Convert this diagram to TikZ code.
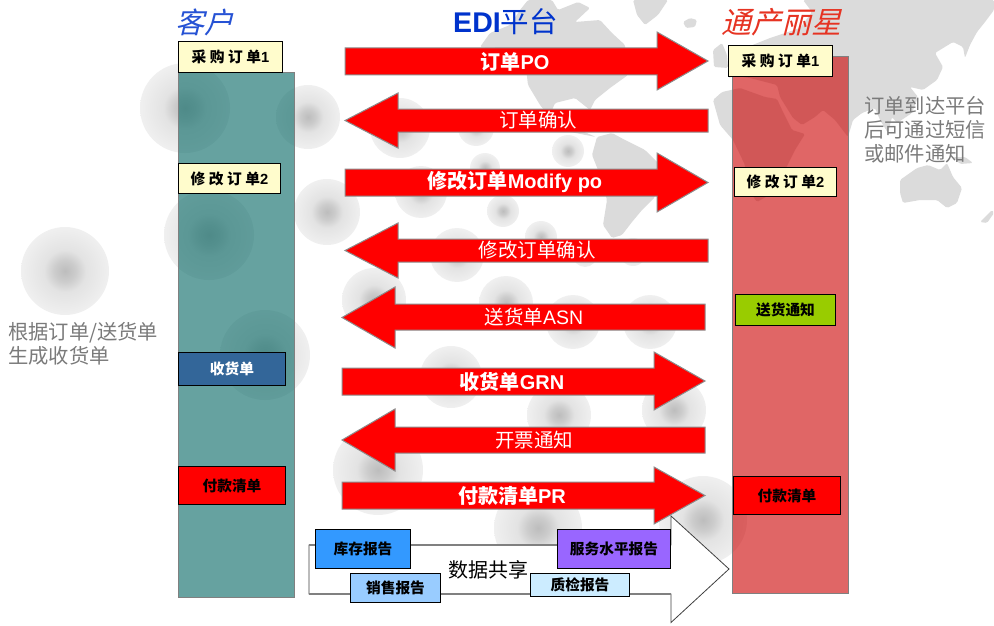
\documentclass[tikz,border=0pt]{standalone}
\usepackage{fontspec}
\setmainfont{Liberation Sans}
\newfontfamily\cjk{Noto Sans CJK SC}
\newfontfamily\cjkslant[FakeSlant=0.25]{Noto Sans CJK SC}
\newfontfamily\cjkspaced[LetterSpace=24]{Noto Sans CJK SC}
\newcommand{\zh}[1]{{\cjk #1}}
\newcommand{\fsz}[1]{\fontsize{#1}{24}\selectfont}
\definecolor{landgray}{HTML}{DBDBDB}
\definecolor{tealcol}{RGB}{20,112,109}
\definecolor{redcol}{RGB}{203,0,0}
\definecolor{titleblue}{HTML}{0033CC}
\definecolor{titlered}{HTML}{E63322}
\pgfdeclareradialshading{ballshade}{\pgfpoint{0bp}{0bp}}{rgb(0bp)=(.74,.74,.74); rgb(6bp)=(.8,.8,.8); rgb(12bp)=(.89,.89,.89); rgb(25bp)=(.94,.94,.94); rgb(50bp)=(.94,.94,.94)}
\tikzset{
  land/.style={fill=landgray, draw=none, rounded corners=1.5pt},
  ball/.style={draw=none, shading=ballshade},
  column/.style={draw=black!50, line width=1pt},
  bigarrow/.style={fill=red, draw=black!45, line width=1pt},
  arrowtext/.style={text=white, font=\fsz{19.5}},
  arrowbold/.style={text=white, font=\fsz{20}\bfseries},
  docbox/.style={draw=black, line width=0.9pt, inner sep=0pt, font=\fsz{14.7}\bfseries},
  sidetext/.style={text=black!52, anchor=west, align=left, inner sep=0pt, font=\fsz{20.3}}
}
\begin{document}
\begin{tikzpicture}[x=1pt, y=-1pt]
    \useasboundingbox (0,0) rectangle (994,626);

    % world map behind everything
    \fill[land] (528,0) -- (552,0) -- (558,10) -- (578,2) -- (590,8) -- (575,22) -- (600,20) -- (612,33) -- (625,45) -- (628,75) -- (610,88) -- (595,100) -- (590,110) -- (575,98) -- (555,103) -- (550,115) -- (568,125) -- (596,137) -- (560,130) -- (540,105) -- (528,85) -- (525,60) -- (500,48) -- (480,47) -- (490,33) -- (510,25) -- (520,10) -- cycle;
    \fill[land] (633,0) -- (668,0) -- (658,15) -- (645,25) -- (637,15) -- cycle;
    \fill[land] (683,22) -- (690,18) -- (697,20) -- (695,27) -- (686,28) -- cycle;
    \fill[land] (713,50) -- (722,43) -- (727,55) -- (728,68) -- (714,67) -- cycle;
    \fill[land] (597,137) -- (612,133) -- (625,140) -- (645,150) -- (660,165) -- (658,178) -- (655,197) -- (642,210) -- (632,222) -- (622,235) -- (612,238) -- (603,225) -- (607,200) -- (600,175) -- (592,155) -- cycle;
    \fill[land] (713,100) -- (722,92) -- (740,88) -- (765,97) -- (777,99) -- (783,112) -- (792,130) -- (805,134) -- (795,150) -- (785,170) -- (778,190) -- (757,202) -- (745,185) -- (745,165) -- (733,140) -- (720,125) -- cycle;
    \fill[land] (803,0) -- (994,0) -- (994,10) -- (985,22) -- (977,32) -- (970,45) -- (965,58) -- (963,47) -- (953,42) -- (935,53) -- (943,67) -- (937,80) -- (923,90) -- (910,87) -- (918,97) -- (912,113) -- (897,123) -- (892,117) -- (888,133) -- (880,120) -- (875,108) -- (862,113) -- (853,120) -- (848,137) -- (835,120) -- (823,110) -- (815,117) -- (802,125) -- (793,118) -- (780,97) -- (777,85) -- (750,78) -- (735,76) -- (728,78) -- (735,60) -- (745,48) -- (770,38) -- (800,28) -- (812,12) -- cycle;
    \fill[land] (900,180) -- (917,168) -- (928,165) -- (940,170) -- (947,163) -- (953,177) -- (962,188) -- (957,203) -- (947,208) -- (937,200) -- (920,200) -- (903,203) -- (900,193) -- cycle;
    \fill[land] (953,157) -- (965,157) -- (973,163) -- (960,164) -- cycle;
    \fill[land] (980,222) -- (992,210) -- (994,213) -- (987,223) -- cycle;

    % grey balls
    \foreach \cx/\cy/\cr in {185/108/45, 308/117/32, 209/235/45, 327/212/33, 65/271/44, 265/355/45,
        568/151/16, 476/128/18, 400/128/30, 421/192/26, 503/211/16, 485/168/15, 457/255/27, 541/237/16,
        585/255/12, 633/252/14, 374/300/32, 506/303/27, 573/322/27, 650/322/27, 451/377/31, 559/415/32,
        674/410/32, 378/470/45, 538/528/44, 703/520/44}
      \shade[ball] (\cx,\cy) circle [radius=\cr];

    % the two columns
    \filldraw[column, fill=tealcol, fill opacity=0.65] (178,73) rectangle (294,597.5);
    \filldraw[column, fill=redcol, fill opacity=0.6] (732.5,57) rectangle (848.5,593.5);

    \node[font=\fsz{29}\cjkslant, text=titleblue!85!white] (customer) at (204,22) {客户};
    \node[font=\fsz{28.5}, text=titleblue] (platform) at (505.5,22) {\textbf{EDI}\zh{平台}};
    \node[font=\fsz{30}\cjkslant, text=titlered] (vendor) at (781,22) {通产丽星};

    % red arrows: tip, head, tail, body top and bottom, head top and bottom
    \foreach \tip/\head/\tail/\bt/\bb/\ht/\hb in {708/657/345/48/75/32/90, 345/398/708/109/132/93/148,
        708/657/345/169/196/153/212, 345/398/708/239/262/223/278, 342/395/705/304/330/287/348,
        705/654/342/368/395/352/410, 342/395/705/427/453/409/471, 705/654/342/482/509/467/524}
      \draw[bigarrow] (\tail,\bt) -- (\head,\bt) -- (\head,\ht) -- ({\tip},{(\ht+\hb)/2}) -- (\head,\hb) -- (\head,\bb) -- (\tail,\bb) -- cycle;

    \node[arrowbold] (po) at (515,61.5) {\zh{订单}PO};
    \node[arrowtext] (poack) at (538,120) {\zh{订单确认}};
    \node[arrowbold] (modify) at (515,182.5) {\zh{修改订单}Modify po};
    \node[arrowtext] (modifyack) at (537,250) {\zh{修改订单确认}};
    \node[arrowtext] (asn) at (534,317) {\zh{送货单}ASN};
    \node[arrowbold] (grn) at (512,381.5) {\zh{收货单}GRN};
    \node[arrowtext] (invoice) at (534,440) {\zh{开票通知}};
    \node[arrowbold] (pr) at (512,495.5) {\zh{付款清单}PR};

    % data sharing arrow
    \draw[fill=white, draw=black!75, line width=0.8pt] (309,545) -- (671,545) -- (671,516) -- (729,569) -- (671,622.5) -- (671,594) -- (309,594) -- cycle;
    \draw[black!50, line width=1.6pt] (309,545) -- (671,545);
    \draw[black!50, line width=1.6pt] (309,594) -- (671,594);
    \node[font=\fsz{20}\cjk] (share) at (488,570) {数据共享};

    % documents on the customer side
    \node[docbox, fill=yellow!20, minimum width=104.5pt, minimum height=31.5pt] (buy1) at (230.5,57) {{\cjkspaced 采购订单}1};
    \node[docbox, fill=yellow!20, minimum width=102.5pt, minimum height=30.5pt] (mod1) at (229.5,178.5) {{\cjkspaced 修改订单}2};
    \node[docbox, fill={rgb,255:red,51;green,102;blue,153}, text=white, minimum width=107.5pt, minimum height=33.5pt] (receipt) at (232,369) {\zh{收货单}};
    \node[docbox, fill=red, minimum width=107.5pt, minimum height=38.5pt] (pay1) at (232,485.5) {\zh{付款清单}};

    % documents on the vendor side
    \node[docbox, fill=yellow!20, minimum width=104.5pt, minimum height=31.5pt] (buy2) at (780.5,61) {{\cjkspaced 采购订单}1};
    \node[docbox, fill=yellow!20, minimum width=102.5pt, minimum height=29.5pt] (mod2) at (785.5,182) {{\cjkspaced 修改订单}2};
    \node[docbox, fill={rgb,255:red,153;green,204;blue,0}, minimum width=100.5pt, minimum height=31.5pt] (notice) at (785.5,310) {\zh{送货通知}};
    \node[docbox, fill=red, minimum width=107.5pt, minimum height=38.5pt] (pay2) at (787,495.5) {\zh{付款清单}};

    % reports on the big arrow
    \node[docbox, fill={rgb,255:red,51;green,153;blue,255}, minimum width=95.5pt, minimum height=39.5pt] (stock) at (363,549) {\zh{库存报告}};
    \node[docbox, fill={rgb,255:red,153;green,102;blue,255}, minimum width=113.5pt, minimum height=39.5pt] (service) at (614,549) {\zh{服务水平报告}};
    \node[docbox, fill={rgb,255:red,153;green,204;blue,255}, minimum width=90.5pt, minimum height=29.5pt] (sales) at (395.5,588) {\zh{销售报告}};
    \node[docbox, fill={rgb,255:red,204;green,236;blue,255}, minimum width=99.5pt, minimum height=23.5pt] (quality) at (580,585) {\zh{质检报告}};

    \node[sidetext] (notenotify) at (864,130) {\zh{订单到达平台}\\\zh{后可通过短信}\\\zh{或邮件通知}};
    \node[sidetext] (notereceipt) at (8,344) {\zh{根据订单/送货单}\\\zh{生成收货单}};
\end{tikzpicture}
\end{document}
